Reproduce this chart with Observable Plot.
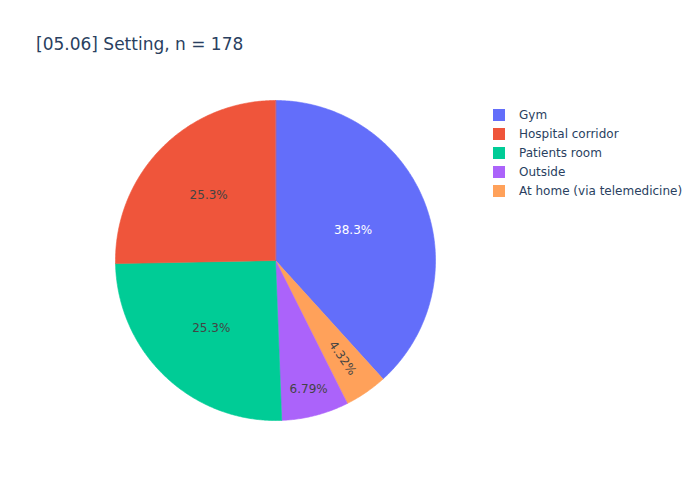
<!DOCTYPE html>
<html>
<head>
<meta charset="utf-8">
<script src="https://cdn.jsdelivr.net/npm/d3@7"></script>
<script src="https://cdn.jsdelivr.net/npm/@observablehq/plot@0.6"></script>
<style>
  body { margin: 0; background: #fff; }
  #wrap { position: relative; width: 700px; height: 500px; font-family: "DejaVu Sans", sans-serif; }
  #title { position: absolute; left: 36px; top: 33px; font-size: 17px; color: #2a3f5f; white-space: nowrap; line-height: 23px; }
  #legend { position: absolute; left: 493px; top: 105px; font-size: 12px; color: #2a3f5f; }
  .item { height: 19px; display: flex; align-items: center; white-space: nowrap; }
  .sw { width: 12px; height: 12px; margin-right: 14px; }
  #chart { position: absolute; left: 0; top: 0; }
</style>
</head>
<body>
<div id="wrap">
  <div id="chart"></div>
  <div id="title">[05.06] Setting, n = 178</div>
  <div id="legend"></div>
</div>
<script>
const categories = ["Gym", "Hospital corridor", "Patients room", "Outside", "At home (via telemedicine)"];
const counts = [62, 41, 41, 11, 7];
const colors = ["#636efa", "#EF553B", "#00cc96", "#ab63fa", "#FFA15A"];
const textColors = ["#ffffff", "#444444", "#444444", "#444444", "#444444"];
// clockwise drawing order from 12 o'clock (as in the reference)
const drawOrder = ["Gym", "At home (via telemedicine)", "Outside", "Patients room", "Hospital corridor"];

const total = d3.sum(counts);
const byName = new Map(categories.map((c, i) => [c, {name: c, value: counts[i], color: colors[i], text: textColors[i]}]));

// Build slice polygons (angle measured clockwise from 12 o'clock)
const polyPoints = [];
const labels = [];
let start = 0;
for (const name of drawOrder) {
  const s = byName.get(name);
  const frac = s.value / total;
  const a0 = start, a1 = start + frac * 2 * Math.PI;
  polyPoints.push({name, x: 0, y: 0});
  const steps = Math.max(4, Math.ceil((a1 - a0) / (Math.PI / 360)));
  for (let k = 0; k <= steps; k++) {
    const a = a0 + (a1 - a0) * k / steps;
    polyPoints.push({name, x: Math.sin(a), y: Math.cos(a)});
  }
  const mid = (a0 + a1) / 2;
  let r, rot = 0;
  if (frac > 0.3) r = 0.52;
  else if (frac > 0.2) r = 0.585;
  else if (frac > 0.05) r = 0.83;
  else { r = 0.74; rot = mid * 180 / Math.PI - 90; }
  const pct = frac * 100;
  const txt = (pct >= 10 ? pct.toFixed(1) : pct.toPrecision(3)) + "%";
  labels.push({name, x: r * Math.sin(mid), y: r * Math.cos(mid), txt, color: s.text, rot});
  start = a1;
}

const plot = Plot.plot({
  width: 700,
  height: 500,
  marginLeft: 115,
  marginRight: 265,
  marginTop: 100,
  marginBottom: 80,
  x: {domain: [-1, 1], axis: null},
  y: {domain: [-1, 1], axis: null},
  color: {domain: categories, range: colors},
  style: {fontFamily: "DejaVu Sans, sans-serif", background: "transparent"},
  marks: [
    Plot.line(polyPoints, {x: "x", y: "y", z: "name", fill: "name", stroke: "name", strokeWidth: 0.6, curve: "linear-closed"}),
    Plot.text(labels, {x: "x", y: "y", text: "txt", fill: d => d.color, rotate: "rot", fontSize: 12})
  ]
});
document.getElementById("chart").appendChild(plot);

const legend = document.getElementById("legend");
categories.forEach((c, i) => {
  const it = document.createElement("div");
  it.className = "item";
  it.innerHTML = `<div class="sw" style="background:${colors[i]}"></div><span>${c}</span>`;
  legend.appendChild(it);
});
</script>
</body>
</html>
